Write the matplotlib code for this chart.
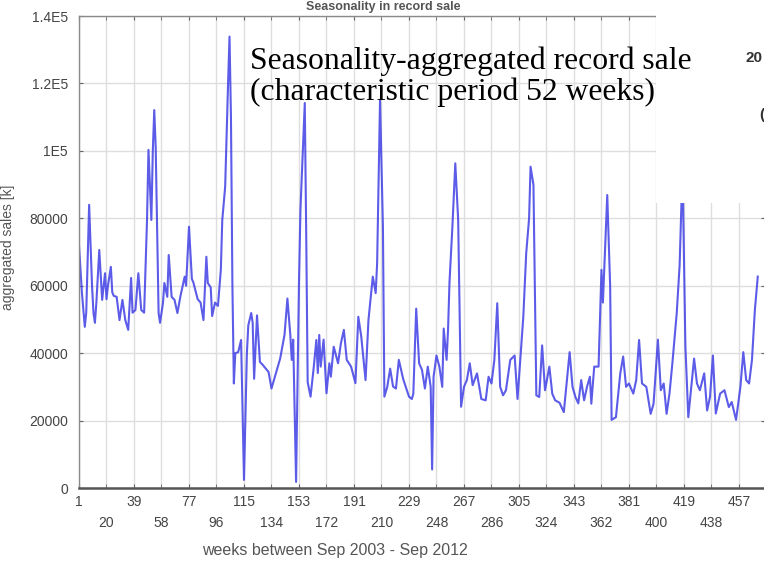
import matplotlib
matplotlib.use('Agg')
import matplotlib.pyplot as plt
from matplotlib.patches import Rectangle

# weekly aggregated sales (week index, value)
weeks = [1, 3, 5, 6, 8, 10, 11, 12, 13, 15, 17, 19, 20, 21, 23, 24, 25, 27, 29, 31,
         33, 35, 37, 38, 40, 42, 44, 46, 48, 49, 51, 52, 53, 54, 56, 57, 59, 60, 62, 63,
         65, 67, 69, 71, 74, 75, 77, 79, 80, 83, 85, 87, 89, 90, 92, 93, 95, 97, 99, 100,
         102, 104, 105, 106, 107, 108, 109, 111, 113, 115, 117, 118, 120, 121, 122, 124, 126, 128, 132, 134,
         137, 140, 143, 145, 147, 148, 149, 151, 153, 154, 157, 158, 159, 161, 163, 165, 166, 167, 168, 170,
         172, 174, 175, 177, 180, 182, 184, 186, 189, 192, 194, 196, 199, 201, 204, 206, 207, 209, 211, 212,
         214, 216, 218, 220, 222, 225, 229, 231, 232, 234, 236, 238, 240, 242, 244, 245, 246, 248, 250, 252,
         253, 255, 256, 257, 259, 261, 263, 265, 267, 269, 271, 273, 276, 279, 282, 284, 286, 288, 290, 292,
         294, 296, 299, 302, 304, 307, 308, 310, 312, 313, 315, 317, 319, 321, 323, 326, 328, 330, 333, 336,
         340, 342, 344, 346, 348, 350, 352, 354, 355, 357, 360, 362, 363, 366, 368, 369, 372, 375, 377, 379,
         381, 384, 386, 388, 390, 393, 396, 398, 401, 403, 405, 407, 409, 411, 414, 416, 418, 420, 422, 426,
         428, 430, 433, 435, 437, 439, 441, 444, 447, 450, 452, 455, 458, 460, 462, 464, 466, 468, 470]
sales = [72000, 58000, 47800, 52000, 84000, 60000, 51900, 49000, 55000, 70600,
         55800, 63700, 56000, 60000, 65600, 58000, 57000, 56700, 49800, 55800,
         49800, 46900, 62300, 52000, 52800, 63700, 52800, 52000, 79500, 100300,
         79500, 100000, 112100, 101000, 51900, 49000, 54800, 60800, 56700, 69100,
         56700, 55800, 51900, 56700, 62700, 60000, 77500, 62000, 61000, 56000,
         55000, 49800, 68600, 60800, 59500, 51000, 55000, 54000, 64700, 79500,
         89400, 120000, 133900, 110000, 60000, 31000, 40000, 40300, 43900, 2400,
         40000, 48300, 51900, 49000, 32400, 51200, 37400, 36500, 34400, 29500,
         34000, 38400, 45400, 56200, 45400, 38000, 44000, 1800, 61000, 82500,
         114200, 75000, 31400, 27100, 35000, 43900, 34100, 45400, 36000, 44000,
         28100, 37000, 33000, 41900, 37000, 43000, 46900, 38000, 36000, 31100,
         50800, 45000, 32000, 49800, 62700, 57800, 66700, 115100, 77500, 27100,
         30000, 35400, 30100, 29500, 38000, 32300, 27100, 26400, 28000, 53200,
         37000, 35000, 29500, 36000, 30000, 5500, 33000, 39300, 36000, 30000,
         47300, 38000, 46900, 61100, 77500, 96300, 79500, 24100, 30000, 32000,
         37000, 30500, 34000, 26400, 26000, 33000, 31000, 38000, 54800, 30000,
         27500, 29000, 38000, 39300, 26400, 45000, 50800, 69600, 80000, 95300,
         90000, 27500, 27000, 42300, 29000, 36000, 28000, 26000, 25300, 22500,
         40300, 30000, 27000, 25100, 32000, 26000, 30000, 33000, 25000, 36000,
         36000, 64700, 55000, 86900, 60000, 20200, 21000, 34000, 39000, 30000,
         31000, 28000, 32000, 43900, 31000, 30000, 22000, 25000, 44000, 29000,
         31000, 22000, 28000, 37000, 51800, 66000, 95000, 42000, 21000, 38400,
         31000, 29000, 34000, 23000, 27000, 39300, 22100, 28000, 29000, 24000,
         25500, 20200, 30000, 40300, 32000, 31000, 38000, 52800, 62700]

x_ticks_top = [1, 39, 77, 115, 153, 191, 229, 267, 305, 343, 381, 419, 457]
x_ticks_bottom = [20, 58, 96, 134, 172, 210, 248, 286, 324, 362, 400, 438]
y_ticks = [0, 20000, 40000, 60000, 80000, 100000, 120000, 140000]
y_labels = ['0', '20000', '40000', '60000', '80000', '1E5', '1.2E5', '1.4E5']

W, H = 764, 564
fig = plt.figure(figsize=(W / 100, H / 100), dpi=100)
ax = fig.add_axes([79 / W, (H - 488) / H, (765 - 79) / W, (488 - 16) / H])

ax.plot(weeks, sales, color='#3f3fe6', linewidth=1.5, alpha=0.85)

ax.set_xlim(1, 475)
ax.set_ylim(0, 140000)

ax.set_xticks(x_ticks_top)
ax.set_xticks(x_ticks_bottom, minor=True)
ax.set_xticklabels([str(t) for t in x_ticks_top])
ax.set_xticklabels([str(t) for t in x_ticks_bottom], minor=True)
ax.set_yticks(y_ticks)
ax.set_yticklabels(y_labels)

for lab in ax.get_xticklabels() + ax.get_xticklabels(minor=True) + ax.get_yticklabels():
    lab.set_fontfamily('Liberation Sans')
    lab.set_fontsize(10)

ax.tick_params(axis='both', which='both', direction='in', length=3, colors='#666666',
               labelcolor='#444444', top=True, right=True)
ax.tick_params(axis='x', which='major', pad=5)
ax.tick_params(axis='x', which='minor', pad=20)
ax.tick_params(axis='y', pad=8)

ax.grid(True, which='both', color='#dedede', linewidth=1.0)
ax.set_axisbelow(True)

for side in ['top', 'left', 'right']:
    ax.spines[side].set_color('#8a8a8a')
    ax.spines[side].set_linewidth(1.0)
ax.spines['bottom'].set_color('#555555')
ax.spines['bottom'].set_linewidth(1.8)

fig.text(383 / W, 1 - 10 / H, 'Seasonality in record sale', ha='center', va='baseline',
         fontsize=9, color='#555555', fontweight='bold', family='Liberation Sans')
fig.text(8 / W, 1 - 247 / H, 'aggregated sales [k]', rotation=90, ha='center', va='center',
         fontsize=10, color='#555555', family='Liberation Sans')
fig.text(335 / W, 1 - 550 / H, 'weeks between Sep 2003 - Sep 2012', ha='center', va='center',
         fontsize=11.5, color='#555555', family='Liberation Sans')

# white patch pasted over the upper right corner
fig.patches.append(Rectangle((656 / W, 1 - 203 / H), (W - 656) / W, 203 / H,
                             transform=fig.transFigure, facecolor='white',
                             edgecolor='none', zorder=5))
fig.text(745 / W, 1 - 58 / H, '20', ha='left', va='center', fontsize=11,
         fontweight='bold', color='#333333', family='Liberation Sans', zorder=6)
fig.text(759 / W, 1 - 115 / H, '(', ha='left', va='center', fontsize=11,
         fontweight='bold', color='#333333', family='Liberation Sans', zorder=6)

fig.text(250 / W, 1 - 69 / H, 'Seasonality-aggregated record sale', ha='left', va='baseline',
         fontsize=22.8, color='black', family='Liberation Serif', zorder=7)
fig.text(250 / W, 1 - 100 / H, '(characteristic period 52 weeks)', ha='left', va='baseline',
         fontsize=22.8, color='black', family='Liberation Serif', zorder=7)

fig.savefig('out.png', dpi=100)
